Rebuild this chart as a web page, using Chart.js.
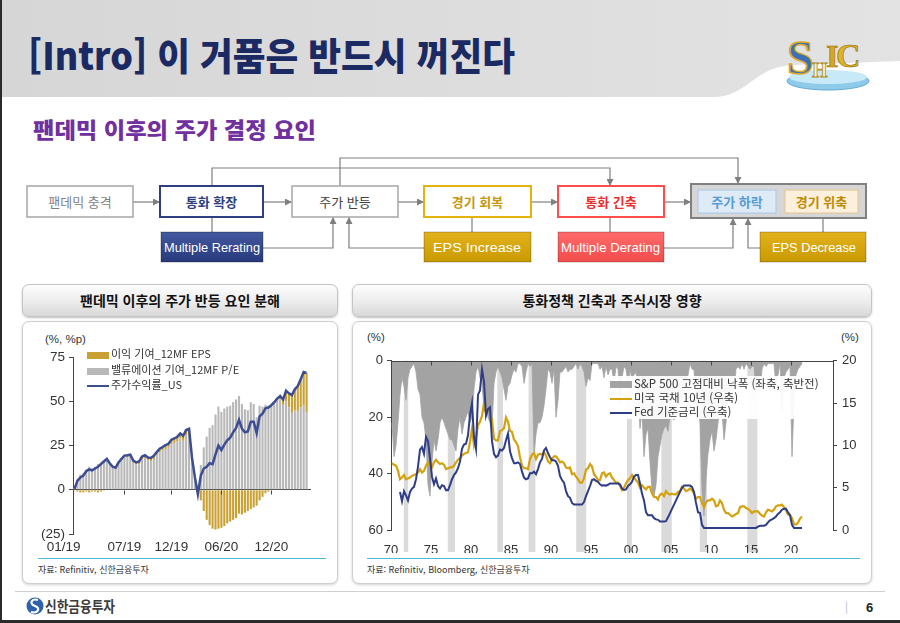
<!DOCTYPE html>
<html lang="ko">
<head>
<meta charset="utf-8">
<script src="https://cdn.jsdelivr.net/npm/chart.js@4.4.1/dist/chart.umd.min.js"></script>
<style>
  html, body { margin: 0; padding: 0; background: #fff; }
  body { width: 900px; height: 623px; position: relative; overflow: hidden;
         font-family: 'Noto Sans CJK KR', 'Noto Sans', sans-serif; color: #333; }
  .abs { position: absolute; }
  .panel-head { position: absolute; height: 31px; border: 1px solid #c4c4c4; border-radius: 7px;
    background: linear-gradient(#fdfdfd, #ececec 55%, #d8d8d8); box-shadow: 0 1px 2px rgba(0,0,0,.25);
    font-weight: bold; font-size: 14px; color: #111; text-align: center; line-height: 31px; }
  .panel { position: absolute; background: #fff; border: 1px solid #cfcfcf; border-radius: 7px;
    box-shadow: 0 1px 3px rgba(0,0,0,.18); }
  .rule { position: absolute; height: 1px; background: #4cb8d8; }
  .src { position: absolute; font-size: 9px; color: #333; white-space: nowrap; }
  .unit { position: absolute; font-family: 'Liberation Sans', sans-serif; font-size: 11.5px; color: #333; }
  .leg { position: absolute; font-size: 11px; color: #333; white-space: nowrap; height: 15px; line-height: 15px; }
  .leg i { display: inline-block; width: 22px; vertical-align: middle; margin-right: 2px; }
  canvas { position: absolute; }
</style>
</head>
<body>

<svg class="abs" style="left:0;top:0" width="900" height="623">
  <defs>
    <linearGradient id="hdr" x1="0" x2="1" y1="0" y2="0">
      <stop offset="0" stop-color="#d6d6d6"/>
      <stop offset="1" stop-color="#e3e3e3"/>
    </linearGradient>
    <linearGradient id="navyBox" x1="0" x2="0" y1="0" y2="1">
      <stop offset="0" stop-color="#43589f"/>
      <stop offset="1" stop-color="#283a7c"/>
    </linearGradient>
    <linearGradient id="goldBox" x1="0" x2="0" y1="0" y2="1">
      <stop offset="0" stop-color="#e2b21c"/>
      <stop offset="1" stop-color="#c99a00"/>
    </linearGradient>
    <linearGradient id="redBox" x1="0" x2="0" y1="0" y2="1">
      <stop offset="0" stop-color="#ff6b6b"/>
      <stop offset="1" stop-color="#f24c4c"/>
    </linearGradient>
    <marker id="arr" markerWidth="7" markerHeight="7" refX="6" refY="3.5" orient="auto" markerUnits="userSpaceOnUse">
      <path d="M0,0 L7,3.5 L0,7 z" fill="#7f7f7f"/>
    </marker>
  </defs>

  <!-- header -->
  <rect x="0" y="0" width="900" height="97" fill="url(#hdr)"/>
  <path d="M712,97 C748,97 752,68 792,65 L900,61 L900,97 Z" fill="#fff"/>
  <text x="28" y="70" font-size="38" font-weight="900" fill="#1b2a63"
        textLength="487" lengthAdjust="spacingAndGlyphs">[Intro] 이 거품은 반드시 꺼진다</text>

  <!-- logo -->
  <ellipse cx="828" cy="81" rx="41" ry="9" fill="#8fcbe9" stroke="#5fa9d3"/>
  <ellipse cx="828" cy="77" rx="39" ry="7" fill="#c8e9f8"/>
  <text x="787" y="74" font-size="48" font-weight="bold" fill="#3d6fb6" stroke="#d9a92a" stroke-width="1.5" font-family="'Liberation Serif', serif">S</text>
  <text x="812" y="77" font-size="20" font-weight="bold" fill="#f7f1c9" stroke="#a9872a" stroke-width="0.8" font-family="'Liberation Serif', serif">H</text>
  <text x="826" y="67" font-size="32" font-weight="bold" fill="#d8a720" stroke="#8c6a12" stroke-width="0.6" font-family="'Liberation Serif', serif">I</text>
  <text x="836" y="67" font-size="34" font-weight="bold" fill="#e0b22a" stroke="#8c6a12" stroke-width="0.6" font-family="'Liberation Serif', serif">C</text>

  <!-- subtitle -->
  <text x="33" y="138" font-size="22" font-weight="900" fill="#7030a0"
        textLength="283" lengthAdjust="spacingAndGlyphs">팬데믹 이후의 주가 결정 요인</text>

  <!-- flowchart connectors -->
  <g stroke="#7f7f7f" stroke-width="1.2" fill="none">
    <line x1="133" y1="202" x2="159" y2="202" marker-end="url(#arr)"/>
    <line x1="263" y1="202" x2="291" y2="202" marker-end="url(#arr)"/>
    <line x1="398" y1="202" x2="423" y2="202" marker-end="url(#arr)"/>
    <line x1="531" y1="202" x2="557" y2="202" marker-end="url(#arr)"/>
    <line x1="664" y1="202" x2="690" y2="202" marker-end="url(#arr)"/>
    <polyline points="212,186 212,168 610,168 610,185" marker-end="url(#arr)"/>
    <polyline points="340,186 340,158 738,158 738,183" marker-end="url(#arr)"/>
    <line x1="212" y1="217" x2="212" y2="232"/>
    <line x1="472" y1="217" x2="472" y2="232"/>
    <line x1="610" y1="217" x2="610" y2="232"/>
    <line x1="823" y1="218" x2="823" y2="232"/>
    <polyline points="263,248 333,248 333,218" marker-end="url(#arr)"/>
    <polyline points="424,248 349,248 349,218" marker-end="url(#arr)"/>
    <polyline points="664,248 733,248 733,219" marker-end="url(#arr)"/>
    <polyline points="760,248 748,248 748,219" marker-end="url(#arr)"/>
  </g>

  <!-- flowchart boxes, row 1 -->
  <g font-size="13" text-anchor="middle" dominant-baseline="central">
    <rect x="27" y="186" width="106" height="31" fill="#fff" stroke="#a6a6a6" stroke-width="1.5"/>
    <text x="80" y="201.5" fill="#7f7f7f">팬데믹 충격</text>
    <rect x="160" y="186" width="103" height="31" fill="#fff" stroke="#2e3e80" stroke-width="2"/>
    <text x="211.5" y="201.5" fill="#2e3e80" font-weight="bold">통화 확장</text>
    <rect x="292" y="186" width="106" height="31" fill="#fff" stroke="#a6a6a6" stroke-width="1.5"/>
    <text x="345" y="201.5" fill="#404040">주가 반등</text>
    <rect x="424" y="186" width="107" height="31" fill="#fff" stroke="#e3b40a" stroke-width="2"/>
    <text x="477.5" y="201.5" fill="#c8960a" font-weight="bold">경기 회복</text>
    <rect x="558" y="186" width="106" height="31" fill="#fff" stroke="#ff4d4d" stroke-width="2"/>
    <text x="611" y="201.5" fill="#e8302f" font-weight="bold">통화 긴축</text>
    <rect x="691" y="184" width="175" height="34" fill="#d6d6d6" stroke="#808080" stroke-width="2"/>
    <rect x="698" y="190" width="78" height="23" fill="#deebf7" stroke="#a9c8e8"/>
    <text x="737" y="201.5" fill="#5b9bd5" font-weight="bold">주가 하락</text>
    <rect x="785" y="190" width="73" height="23" fill="#fcefdc" stroke="#e6c48c"/>
    <text x="821.5" y="201.5" fill="#bf8a00" font-weight="bold">경기 위축</text>
  </g>

  <!-- flowchart boxes, row 2 -->
  <g font-size="13" fill="#fff" dominant-baseline="central" font-family="'Liberation Sans', sans-serif">
    <rect x="161" y="232" width="102" height="30" fill="url(#navyBox)" stroke="rgba(0,0,0,.3)"/>
    <text x="164" y="247.5" textLength="96" lengthAdjust="spacingAndGlyphs">Multiple Rerating</text>
    <rect x="424" y="232" width="107" height="30" fill="url(#goldBox)" stroke="rgba(0,0,0,.25)"/>
    <text x="433" y="247.5" textLength="88" lengthAdjust="spacingAndGlyphs">EPS Increase</text>
    <rect x="558" y="232" width="106" height="30" fill="url(#redBox)" stroke="rgba(0,0,0,.25)"/>
    <text x="561" y="247.5" textLength="99" lengthAdjust="spacingAndGlyphs">Multiple Derating</text>
    <rect x="760" y="232" width="106" height="30" fill="url(#goldBox)" stroke="rgba(0,0,0,.25)"/>
    <text x="772" y="247.5" textLength="84" lengthAdjust="spacingAndGlyphs">EPS Decrease</text>
  </g>

  <!-- footer -->
  <line x1="15" y1="591.5" x2="885" y2="591.5" stroke="#cfcfcf"/>
  <circle cx="35" cy="606" r="8.5" fill="#2f62ad"/>
  <path d="M38,600 C31,598 29,604 35,606 C41,608 38,614 31,612" stroke="#fff" stroke-width="2.2" fill="none"/>
  <text x="45" y="612" font-size="15" font-weight="bold" fill="#3c3c3c"
        textLength="70" lengthAdjust="spacingAndGlyphs">신한금융투자</text>
  <text x="845" y="611" font-size="11" fill="#a9bad2">|</text>
  <text x="866" y="612" font-size="13" font-weight="bold" fill="#222" font-family="'Liberation Sans', sans-serif">6</text>

  <!-- slide frame -->
  <rect x="0" y="0" width="2" height="623" fill="#2a2a2a"/>
  <rect x="0" y="620" width="900" height="3" fill="#2a2a2a"/>
</svg>

<div class="panel-head" style="left:22px;top:284px;width:314px">팬데믹 이후의 주가 반등 요인 분해</div>
<div class="panel-head" style="left:352px;top:284px;width:518px">통화정책 긴축과 주식시장 영향</div>
<div class="panel" style="left:22px;top:321px;width:314px;height:261px"></div>
<div class="panel" style="left:352px;top:321px;width:518px;height:261px"></div>

<div class="unit" style="left:45px;top:333px">(%, %p)</div>
<div class="unit" style="left:367px;top:331px">(%)</div>
<div class="unit" style="left:841px;top:331px">(%)</div>

<canvas id="leftChart" width="283" height="211" style="left:30px;top:345px"></canvas>
<canvas id="rightChart" width="510" height="205" style="left:360px;top:348px"></canvas>

<div class="leg" style="left:87px;top:346px"><i style="height:7px;background:#c9a133"></i>이익 기여_12MF EPS</div>
<div class="leg" style="left:87px;top:362px"><i style="height:7px;background:#b8b8b8"></i>밸류에이션 기여_12MF P/E</div>
<div class="leg" style="left:87px;top:377px"><i style="height:2.5px;background:#3d4d93"></i>주가수익률_US</div>

<div class="abs" style="left:607px;top:376px;width:214px;height:43px;background:rgba(255,255,255,.93)"></div>
<div class="leg" style="left:610px;top:376px;font-size:11.5px"><i style="height:7px;background:#a3a3a3"></i>S&amp;P 500 고점대비 낙폭 (좌축, 축반전)</div>
<div class="leg" style="left:610px;top:390px;font-size:11.5px"><i style="height:2.5px;background:#d4a20f"></i>미국 국채 10년 (우축)</div>
<div class="leg" style="left:610px;top:404px;font-size:11.5px"><i style="height:2.5px;background:#2e3d86"></i>Fed 기준금리 (우축)</div>

<div class="rule" style="left:38px;top:558px;width:288px"></div>
<div class="rule" style="left:367px;top:558px;width:493px"></div>
<div class="src" style="left:38px;top:563px">자료: Refinitiv, 신한금융투자</div>
<div class="src" style="left:367px;top:563px">자료: Refinitiv, Bloomberg, 신한금융투자</div>

<script>
// ---- left chart: weekly-ish samples, Jan 2019 .. Apr 2021 ----
var stockReturn = [
  0.5, 5, 7, 8, 10.5, 11.5, 11, 12, 13, 14.5,
  16, 17.5, 15, 13, 12.5, 15.5, 17.5, 19.3, 19.5, 19.8,
  16.5, 15.5, 16, 18.8, 19.5, 18.2, 18, 19.2, 21.3, 23.2,
  24.2, 25.3, 26, 28.3, 29, 30, 31.8, 30.5, 33.8, 34.5,
  18, 7, -2.5, 8, 12, 13, 15, 14.5, 20, 25,
  22.5, 25.5, 28, 29.5, 32.5, 35, 39.5, 34.5, 32.5, 33,
  38.5, 38.5, 32, 41.5, 43, 46, 46.5, 47.8, 49.5, 51.5,
  53, 51, 56, 54.5, 53.5, 56.8, 58.6, 62.5, 66.5, 66
];
var epsContribution = [
  -0.5, -1, -1.5, -1.5, -1, -1.5, -1, -1, -1.5, -1,
  -0.5, 0.5, 0.5, 0.5, 0.5, 0.8, 0.8, 1, 1, 1.2,
  1.2, 1.2, 1.5, 1.5, 1.5, 1.5, 1.8, 1.8, 2, 2,
  2, 2.2, 2.2, 2.5, 2.5, 2.5, 2.8, 2.8, 3, 3,
  2, 1, 0, -6, -12, -17, -20, -22, -22.5, -22,
  -21.5, -20.5, -19, -18, -17, -16, -13.5, -14, -13, -12,
  -11, -10, -9, -6, -4, -2, -1, 0, 0.5, 1,
  2, 3, 6, 8, 10, 12, 14, 16, 19, 22
];
var peContribution = [
  1, 6, 8.5, 9.5, 11.5, 13, 12, 13, 14.5, 15.5,
  16.5, 17, 14.5, 12.5, 12, 14.7, 16.7, 18.3, 18.5, 18.6,
  15.3, 14.3, 14.5, 17.3, 18, 16.7, 16.2, 17.4, 19.3, 21.2,
  22.2, 23.1, 23.8, 25.8, 26.5, 27.5, 29, 27.7, 30.8, 31.5,
  16, 6, -2.5, 14, 24, 30, 35, 36.5, 42.5, 47,
  44, 46, 47, 47.5, 49.5, 51, 53, 48.5, 45.5, 45,
  49.5, 48.5, 41, 47.5, 47, 48, 47.5, 47.8, 49, 50.5,
  51, 48, 50, 46.5, 43.5, 44.8, 44.6, 46.5, 47.5, 44
];
var leftTickIdx = [0, 17, 33, 50, 67];
var leftTickText = ['01/19', '07/19', '12/19', '06/20', '12/20'];

// ---- right chart: quarterly, 1970Q1 .. 2021Q2 ----
var drawdown = [
  22, 34, 30, 22,   12, 6, 9, 14,   6, 3, 2, 1,   4, 10, 12, 20,   22, 28, 44, 48,
  36, 28, 32, 28,   22, 20, 22, 24,   26, 28, 28, 30,   32, 24, 20, 26,   22, 20, 18, 22,
  20, 10, 4, 2,   6, 8, 18, 16,   20, 22, 24, 8,   4, 2, 4, 6,   10, 14, 9, 8,
  5, 3, 4, 1,   1, 2, 8, 4,   1, 2, 1, 33,   26, 22, 22, 20,   16, 10, 3, 4,
  8, 3, 20, 14,   4, 4, 3, 2,   4, 3, 3, 2,   1, 3, 1, 2,   4, 9, 6, 7,
  1, 1, 1, 1,   3, 2, 6, 2,   5, 3, 3, 8,   2, 3, 15, 6,   2, 3, 8, 3,
  6, 5, 4, 12,   24, 18, 34, 26,   24, 36, 46, 48,   44, 34, 30, 26,   24, 23, 25, 20,
  20, 21, 18, 17,   15, 14, 12, 8,   5, 1, 3, 3,   16, 15, 22, 46,   55, 42, 33, 28,
  25, 32, 28, 22,   15, 18, 28, 22,   12, 15, 10, 11,   3, 2, 3, 1,   3, 1, 2, 3,
  2, 2, 11, 5,   12, 3, 1, 2,   1, 1, 1, 1,   9, 5, 1, 18,   6, 4, 3, 2,
  34, 15, 5, 3,   2, 1
];
var ust10y = [
  7.9, 7.7, 7.6, 7.0,   6.0, 6.2, 6.5, 6.0,   6.1, 6.2, 6.4, 6.5,   6.6, 6.8, 7.2, 6.8,   7.0, 7.6, 8.0, 7.6,
  7.4, 8.0, 8.3, 8.0,   7.8, 7.9, 7.7, 7.2,   7.3, 7.4, 7.4, 7.6,   8.0, 8.3, 8.5, 8.8,   9.0, 9.1, 9.2, 10.4,
  12.0, 10.0, 10.9, 12.4,   12.8, 13.5, 15.0, 13.8,   14.2, 13.9, 13.0, 10.8,   10.6, 10.6, 11.7, 11.8,   12.0, 13.3, 12.8, 11.7,
  11.6, 10.7, 10.4, 9.9,   8.6, 7.6, 7.3, 7.3,   7.2, 8.4, 8.9, 9.1,   8.4, 8.9, 9.0, 8.9,   9.2, 8.8, 8.1, 7.9,
  8.4, 8.7, 8.7, 8.4,   8.0, 8.1, 7.9, 7.4,   7.3, 7.4, 6.6, 6.7,   6.3, 6.0, 5.6, 5.6,   6.1, 7.1, 7.3, 7.8,
  7.5, 6.6, 6.3, 5.9,   5.9, 6.7, 6.8, 6.3,   6.6, 6.7, 6.2, 5.9,   5.6, 5.6, 5.2, 4.7,   5.0, 5.5, 5.9, 6.1,
  6.5, 6.2, 5.9, 5.6,   5.0, 5.3, 5.0, 4.8,   5.1, 5.1, 4.3, 3.9,   3.9, 3.6, 4.2, 4.3,   4.0, 4.6, 4.3, 4.2,
  4.3, 4.2, 4.2, 4.5,   4.6, 5.1, 4.9, 4.6,   4.7, 4.9, 4.7, 4.3,   3.7, 3.9, 3.9, 3.2,   2.7, 3.3, 3.5, 3.5,
  3.7, 3.5, 2.8, 2.9,   3.5, 3.2, 2.4, 2.0,   2.0, 1.8, 1.6, 1.7,   1.9, 2.0, 2.7, 2.8,   2.8, 2.6, 2.5, 2.3,
  2.0, 2.2, 2.2, 2.2,   1.9, 1.7, 1.6, 2.1,   2.4, 2.3, 2.2, 2.4,   2.8, 2.9, 2.9, 3.0,   2.7, 2.3, 1.8, 1.8,
  1.4, 0.7, 0.65, 0.85,   1.35, 1.6
];
var fedRate = [
  null, null, null, null,   4.5, 3.4, 4.6, 4.1,   3.5, 4.5, 4.9, 5.1,   6.0, 7.5, 9.5, 9.8,   9.0, 11.0, 10.5, 8.5,
  6.3, 5.4, 6.1, 5.2,   4.9, 5.3, 5.2, 4.7,   4.7, 5.3, 6.0, 6.5,   6.8, 7.3, 8.1, 9.6,   10.1, 10.2, 11.2, 13.6,
  15.0, 11.0, 9.6, 16.0,   16.5, 19.0, 17.5, 13.5,   14.3, 14.5, 10.5, 9.0,   8.6, 8.8, 9.5, 9.4,   9.7, 10.6, 11.4, 9.3,
  8.5, 7.9, 7.9, 8.0,   7.8, 6.9, 6.2, 6.0,   6.1, 6.7, 6.7, 6.9,   6.6, 7.2, 8.0, 8.4,   9.4, 9.7, 9.1, 8.6,
  8.25, 8.25, 8.1, 7.6,   6.4, 5.9, 5.6, 4.6,   4.0, 3.8, 3.2, 3.0,   3.0, 3.0, 3.0, 3.0,   3.3, 4.0, 4.6, 5.2,
  5.9, 6.0, 5.8, 5.7,   5.4, 5.25, 5.3, 5.25,   5.35, 5.5, 5.5, 5.5,   5.5, 5.5, 5.4, 4.9,   4.75, 4.8, 5.2, 5.4,
  5.7, 6.3, 6.5, 6.5,   5.5, 4.3, 3.5, 2.1,   1.75, 1.75, 1.75, 1.4,   1.25, 1.2, 1.0, 1.0,   1.0, 1.05, 1.5, 2.0,
  2.5, 3.0, 3.5, 4.0,   4.5, 5.0, 5.25, 5.25,   5.25, 5.25, 5.1, 4.5,   3.2, 2.1, 2.0, 0.6,   0.25, 0.25, 0.25, 0.25,
  0.25, 0.25, 0.25, 0.25,   0.25, 0.25, 0.25, 0.25,   0.25, 0.25, 0.25, 0.25,   0.25, 0.25, 0.25, 0.25,   0.25, 0.25, 0.25, 0.25,
  0.25, 0.25, 0.25, 0.4,   0.5, 0.5, 0.5, 0.6,   0.9, 1.15, 1.25, 1.4,   1.6, 1.9, 2.1, 2.4,   2.5, 2.5, 2.1, 1.75,
  0.6, 0.25, 0.25, 0.25,   0.25, 0.25
];
// shaded periods (start year, end year)
var shadedPeriods = [
  [1971.6, 1972.15], [1977.1, 1978.0], [1983.3, 1984.0], [1987.2, 1988.05], [1993.15, 1994.4],
  [1999.5, 2000.1], [2003.8, 2005.1], [2008.6, 2009.5], [2014.55, 2015.8]
];

Chart.defaults.font.family = "'Liberation Sans', 'Noto Sans CJK KR', sans-serif";
Chart.defaults.color = '#333';
Chart.defaults.animation = false;

var axisColor = '#444';

// x labels of the left chart, drawn on the category scale
var leftXLabels = {
  id: 'leftXLabels',
  afterDraw: function(chart) {
    var ctx = chart.ctx, x = chart.scales.x, y = chart.scales.y;
    var y0 = Math.round(y.getPixelForValue(0)) + 0.5;
    ctx.save();
    ctx.font = '13.5px "Liberation Sans"';
    ctx.fillStyle = '#333';
    ctx.textBaseline = 'top';
    ctx.strokeStyle = axisColor;
    ctx.lineWidth = 1;
    leftTickIdx.forEach(function(idx, k) {
      var px = x.getPixelForValue(idx);
      if (k === 0) {
        ctx.textAlign = 'right';
        ctx.fillText(leftTickText[k], px + 6, y.bottom + 7);
        return;
      }
      ctx.textAlign = 'center';
      ctx.fillText(leftTickText[k], px, y.bottom + 7);
      ctx.beginPath();
      ctx.moveTo(Math.round(px) + 0.5, y0);
      ctx.lineTo(Math.round(px) + 0.5, y0 + 4);
      ctx.stroke();
    });
    ctx.restore();
  }
};

var sampleLabels = [];
for (var i = 0; i <= stockReturn.length; i++) sampleLabels.push(i);

new Chart(document.getElementById('leftChart'), {
  type: 'bar',
  data: {
    labels: sampleLabels,
    datasets: [
      { label: '밸류에이션 기여_12MF P/E', data: peContribution, backgroundColor: '#b8b8b8',
        stack: 'bars', order: 1, barPercentage: 0.72, categoryPercentage: 1 },
      { label: '이익 기여_12MF EPS', data: epsContribution, backgroundColor: '#c9a133',
        stack: 'bars', order: 1, barPercentage: 0.72, categoryPercentage: 1 },
      { type: 'line', label: '주가수익률_US', data: stockReturn, borderColor: '#3d4d93',
        borderWidth: 2.5, pointRadius: 0, stack: 'line', order: 0 }
    ]
  },
  options: {
    responsive: false,
    animation: false,
    layout: { padding: { top: 10, right: 2, left: 0, bottom: 0 } },
    plugins: { legend: { display: false }, tooltip: { enabled: false } },
    scales: {
      x: {
        stacked: true,
        grid: { display: false },
        border: { display: false },
        ticks: { display: false },
        afterFit: function(s) { s.height = 22; }
      },
      y: {
        stacked: true,
        min: -25, max: 75,
        ticks: {
          stepSize: 25, padding: 4, color: '#333', font: { size: 13.5 },
          callback: function(v) { return v < 0 ? '(' + (-v) + ')' : v; }
        },
        grid: {
          color: function(c) { return c.tick && c.tick.value === 0 ? axisColor : 'transparent'; },
          tickColor: axisColor, tickLength: 4
        },
        border: { display: true, color: axisColor },
        afterFit: function(s) { s.width = 43; }
      }
    }
  },
  plugins: [leftXLabels]
});

// ---- right chart ----
var quarterX = drawdown.map(function(_, i) { return 1970.125 + i * 0.25; });
function toXY(arr) { return arr.map(function(v, i) { return { x: quarterX[i], y: v }; }); }

var bandsPlugin = {
  id: 'bands',
  beforeDraw: function(chart) {
    var ctx = chart.ctx, area = chart.chartArea, x = chart.scales.x;
    ctx.save();
    ctx.fillStyle = '#dadada';
    shadedPeriods.forEach(function(p) {
      var x0 = x.getPixelForValue(p[0]), x1 = x.getPixelForValue(p[1]);
      ctx.fillRect(x0, area.top, x1 - x0, area.bottom - area.top + 22);
    });
    ctx.restore();
  }
};

var topAxisPlugin = {
  id: 'topAxis',
  afterDatasetsDraw: function(chart) {
    var ctx = chart.ctx, area = chart.chartArea, x = chart.scales.x;
    var yTop = Math.round(area.top) + 0.5;
    ctx.save();
    ctx.strokeStyle = axisColor;
    ctx.lineWidth = 1;
    ctx.beginPath();
    ctx.moveTo(area.left, yTop);
    ctx.lineTo(area.right, yTop);
    x.ticks.forEach(function(t) {
      if (t.value % 5 !== 0) return;
      var px = Math.round(x.getPixelForValue(t.value)) + 0.5;
      ctx.moveTo(px, yTop);
      ctx.lineTo(px, yTop + 4);
    });
    ctx.stroke();
    ctx.restore();
  }
};

new Chart(document.getElementById('rightChart'), {
  type: 'line',
  data: {
    datasets: [
      { label: 'Fed 기준금리 (우축)', data: toXY(fedRate), yAxisID: 'yR', borderColor: '#2e3d86',
        borderWidth: 2, pointRadius: 0, order: 0 },
      { label: '미국 국채 10년 (우축)', data: toXY(ust10y), yAxisID: 'yR', borderColor: '#d4a20f',
        borderWidth: 2.2, pointRadius: 0, order: 1 },
      { label: 'S&P 500 고점대비 낙폭 (좌축, 축반전)', data: toXY(drawdown), yAxisID: 'yL',
        borderColor: '#a3a3a3', borderWidth: 0.8, backgroundColor: '#a3a3a3', fill: 'origin',
        pointRadius: 0, order: 2 }
    ]
  },
  options: {
    responsive: false,
    animation: false,
    layout: { padding: { top: 10, right: 0, left: 0, bottom: 0 } },
    plugins: { legend: { display: false }, tooltip: { enabled: false } },
    scales: {
      x: {
        type: 'linear', min: 1970, max: 2025.25,
        grid: { display: false },
        border: { display: false },
        ticks: {
          stepSize: 5, autoSkip: false, maxRotation: 0, padding: 5, color: '#333', font: { size: 13 },
          callback: function(v) { return (v % 5 === 0 && v <= 2020) ? String(v % 100).padStart(2, '0') : ''; }
        },
        afterFit: function(s) { s.height = 23; }
      },
      yL: {
        position: 'left', reverse: true, min: 0, max: 60,
        ticks: { stepSize: 20, padding: 4, color: '#333', font: { size: 13 } },
        grid: { drawOnChartArea: false, tickLength: 4, color: axisColor },
        border: { color: axisColor },
        afterFit: function(s) { s.width = 31; }
      },
      yR: {
        position: 'right', min: 0, max: 20,
        ticks: { stepSize: 5, padding: 5, color: '#333', font: { size: 13 } },
        grid: { drawOnChartArea: false, tickLength: 4, color: axisColor },
        border: { color: axisColor },
        afterFit: function(s) { s.width = 37; }
      }
    }
  },
  plugins: [bandsPlugin, topAxisPlugin]
});
</script>
</body>
</html>
